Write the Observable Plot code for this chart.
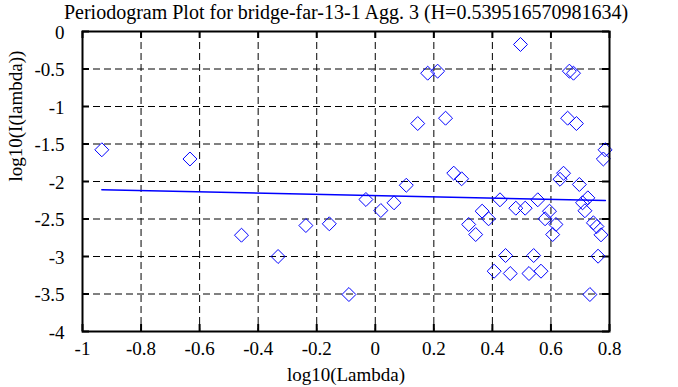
<!DOCTYPE html>
<html>
<head>
<meta charset="utf-8">
<script src="https://cdn.jsdelivr.net/npm/d3@7"></script>
<script src="https://cdn.jsdelivr.net/npm/@observablehq/plot@0.6"></script>
<style>
  html, body { margin: 0; padding: 0; background: #fff; }
  svg { display: block; }
  #chart svg, #chart svg text { font-family: "Liberation Serif", "DejaVu Serif", serif !important; }
</style>
</head>
<body>
<div id="chart"></div>
<script>
const titleText = "Periodogram Plot for bridge-far-13-1 Agg. 3 (H=0.539516570981634)";
const xLabel = "log10(Lambda)";
const yLabel = "log10(I(lambda))";

const xTicks = [-1, -0.8, -0.6, -0.4, -0.2, 0, 0.2, 0.4, 0.6, 0.8];
const yTicks = [0, -0.5, -1, -1.5, -2, -2.5, -3, -3.5, -4];

// periodogram points: log10(lambda), log10(I(lambda))
const logLambda = [
  -0.934, -0.633, -0.457, -0.332, -0.237, -0.157, -0.090, -0.032, 0.019, 0.064,
  0.106, 0.145, 0.179, 0.213, 0.240, 0.268, 0.295, 0.319, 0.343, 0.365,
  0.387, 0.406, 0.426, 0.445, 0.461, 0.480, 0.496, 0.512, 0.525, 0.541,
  0.555, 0.566, 0.580, 0.595, 0.606, 0.617, 0.631, 0.643, 0.657, 0.663,
  0.677, 0.687, 0.697, 0.708, 0.716, 0.726, 0.733, 0.745, 0.757, 0.761,
  0.771, 0.779, 0.785
];
const logI = [
  -1.577, -1.700, -2.716, -3.000, -2.587, -2.564, -3.507, -2.240, -2.387, -2.284,
  -2.050, -1.227, -0.556, -0.529, -1.156, -1.889, -1.964, -2.573, -2.707, -2.396,
  -2.497, -3.196, -2.244, -2.987, -3.227, -2.356, -0.173, -2.356, -3.227, -2.987,
  -2.244, -3.196, -2.497, -2.396, -2.707, -2.573, -1.970, -1.890, -1.156, -0.529,
  -0.556, -1.227, -2.040, -2.284, -2.390, -2.218, -3.507, -2.551, -2.600, -2.996,
  -2.711, -1.700, -1.577
];

// least-squares fit line endpoints
const fitX = [-0.934, 0.786];
const fitY = [-2.111, -2.253];

const points = logLambda.map((x, i) => ({x, y: logI[i]}));
const fit = fitX.map((x, i) => ({x, y: fitY[i]}));

const W = 678, H = 387;
const mL = 82, mR = 69, mT = 31, mB = 56;
const innerH = H - mT - mB;
const innerW = W - mL - mR;
const font = "Liberation Serif, DejaVu Serif, serif";
const blue = "#0000ff";

const chart = Plot.plot({
  width: W,
  height: H,
  marginLeft: mL,
  marginRight: mR,
  marginTop: mT,
  marginBottom: mB,
  style: {fontFamily: font, fontSize: "19px", color: "#000", background: "#fff"},
  x: {domain: [-1, 0.8]},
  y: {domain: [-4, 0]},
  marks: [
    // dashed grid
    Plot.ruleX(xTicks.slice(1, -1), {stroke: "#000", strokeWidth: 1, strokeDasharray: "7,4"}),
    Plot.ruleY(yTicks.slice(1, -1), {stroke: "#000", strokeWidth: 1, strokeDasharray: "7,4"}),
    // inward ticks on all four sides
    Plot.tickX(xTicks, {x: d => d, stroke: "#000", strokeWidth: 2, insetTop: innerH - 7}),
    Plot.tickX(xTicks, {x: d => d, stroke: "#000", strokeWidth: 2, insetBottom: innerH - 7}),
    Plot.tickY(yTicks, {y: d => d, stroke: "#000", strokeWidth: 2, insetRight: innerW - 7}),
    Plot.tickY(yTicks, {y: d => d, stroke: "#000", strokeWidth: 2, insetLeft: innerW - 7}),
    // tick labels
    Plot.axisX(xTicks, {tickSize: 0, tickPadding: 10, tickFormat: d => String(d), label: null, fontSize: 19, fontFamily: font}),
    Plot.axisY(yTicks, {tickSize: 0, tickPadding: 18, tickFormat: d => String(d), label: null, fontSize: 19, fontFamily: font, dy: 1}),
    // data
    Plot.line(fit, {x: "x", y: "y", stroke: blue, strokeWidth: 1.5}),
    Plot.dot(points, {x: "x", y: "y", symbol: "diamond2", r: 6.3, stroke: blue, strokeWidth: 1, fill: "none"}),
    // frame
    Plot.frame({stroke: "#000", strokeWidth: 2}),
    // titles
    Plot.text([titleText], {frameAnchor: "top", lineAnchor: "bottom", dy: -13, fontSize: 20, fontFamily: font, text: d => d}),
    Plot.text([xLabel], {frameAnchor: "bottom", lineAnchor: "top", dy: 36, fontSize: 19, fontFamily: font, text: d => d}),
    Plot.text([yLabel], {frameAnchor: "left", rotate: -90, dx: -67, fontSize: 19, fontFamily: font, text: d => d})
  ]
});

document.getElementById("chart").appendChild(chart);
</script>
</body>
</html>
